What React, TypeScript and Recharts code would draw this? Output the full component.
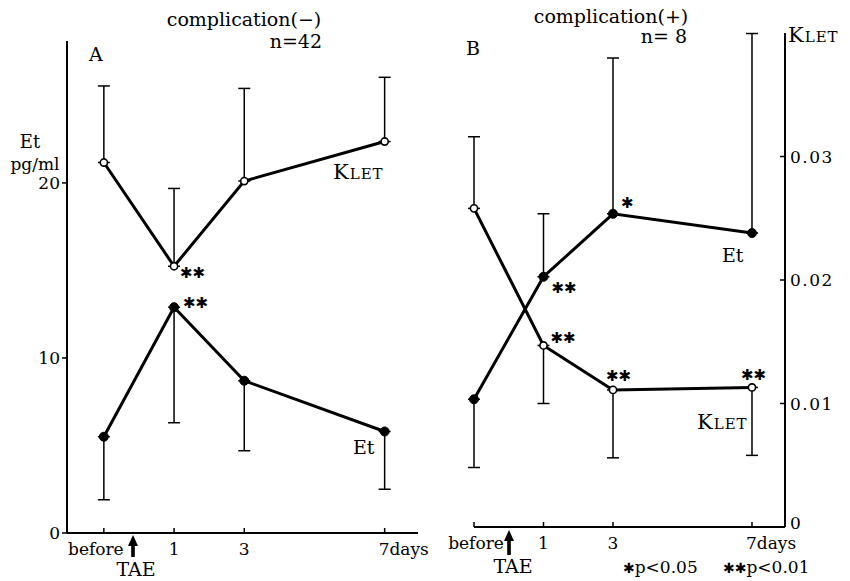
import React from "react";
import { ComposedChart, Line, XAxis, YAxis, ErrorBar } from "recharts";

// days after TAE; "before" sits one "day" left of day 1's spacing
const days = [-1, 1, 3, 7];
const dayLabels = ["before", "1", "3", "7days"];

// A: complication(-), n=42
const etA = [5.5, 12.9, 8.7, 5.8];
const etEndA = [1.9, 6.3, 4.7, 2.5];
const kletA = [0.03, 0.0216, 0.0285, 0.0317];
const kletEndA = [0.0362, 0.0279, 0.036, 0.0369];
const etSigA = ["", "**", "", ""];
const kletSigA = ["", "**", "", ""];

// B: complication(+), n=8
const etB = [7.3, 14.3, 17.9, 16.8];
const etEndB = [3.4, 17.9, 26.8, 28.2];
const kletB = [0.0258, 0.0147, 0.0111, 0.0113];
const kletEndB = [0.0316, 0.01, 0.0056, 0.0058];
const etSigB = ["", "**", "*", ""];
const kletSigB = ["", "**", "**", "**"];

const etTicks = [0, 10, 20];
const kletTicks = [0, 0.01, 0.02, 0.03];

const FONT = "'DejaVu Serif', serif";
const STAR_FONT = "'DejaVu Sans', sans-serif";

const err = (v: number, end: number) =>
  end < v ? [+(v - end).toFixed(4), 0] : [0, +(end - v).toFixed(4)];

const buildRows = (
  et: number[], etEnd: number[], kl: number[], klEnd: number[],
  etSig: string[], klSig: string[]
) =>
  days.map((d, i) => ({
    day: d,
    et: et[i],
    etErr: err(et[i], etEnd[i]),
    klet: kl[i],
    kletErr: err(kl[i], klEnd[i]),
    etSig: etSig[i],
    kletSig: klSig[i],
  }));

const rowsA = buildRows(etA, etEndA, kletA, kletEndA, etSigA, kletSigA);
const rowsB = buildRows(etB, etEndB, kletB, kletEndB, etSigB, kletSigB);

// where the asterisks sit relative to each point
const shiftEtA = [[0, 0], [9, -4], [0, 0], [0, 0]];
const shiftKlA = [[0, 0], [6, 7], [0, 0], [0, 0]];
const shiftEtB = [[0, 0], [8, 11], [8, -11], [0, 0]];
const shiftKlB = [[0, 0], [7, -7], [-7, -14], [-11, -12]];

const makeDot = (filled: boolean, sigKey: string, shift: number[][]) => (props: any) => {
  const { cx, cy, index, payload } = props;
  const sig: string = payload[sigKey];
  const [dx, dy] = shift[index];
  return (
    <g key={`${sigKey}-${index}`}>
      <circle
        cx={cx}
        cy={cy}
        r={filled ? 4.5 : 3.6}
        fill={filled ? "#000" : "#fff"}
        stroke="#000"
        strokeWidth={filled ? 1 : 1.6}
      />
      {sig && (
        <text
          x={cx + dx}
          y={cy + dy}
          dominantBaseline="central"
          fontFamily={STAR_FONT}
          fontSize={15}
          fill="#000"
        >
          {sig.replace(/\*/g, "✱")}
        </text>
      )}
    </g>
  );
};

const DayTick = (props: any) => {
  const { x, y, payload, beforeShift } = props;
  const i = days.indexOf(payload.value);
  const last = i === days.length - 1;
  return (
    <g>
      <line x1={x} y1={y} x2={x} y2={y - 5} stroke="#000" strokeWidth={1.5} />
      <text
        x={last ? x - 6 : x + (i === 0 ? beforeShift : 0)}
        y={y + 16}
        textAnchor={last ? "start" : "middle"}
        dominantBaseline="central"
        fontFamily={FONT}
        fontSize={17}
        fill="#000"
      >
        {dayLabels[i]}
      </text>
    </g>
  );
};

const KletTick = (props: any) => {
  const { x, y, payload } = props;
  const v: number = payload.value;
  return (
    <g>
      <line x1={x - 5} y1={y} x2={x} y2={y} stroke="#000" strokeWidth={1.5} />
      <text
        x={x + 5}
        y={v === 0 ? y - 4 : y}
        dominantBaseline="central"
        fontFamily={FONT}
        fontSize={17}
        letterSpacing={1.5}
        fill="#000"
      >
        {v === 0 ? "0" : v.toFixed(2)}
      </text>
    </g>
  );
};

const axisStroke = { stroke: "#000", strokeWidth: 2 };

const Klet = ({ x, y, big = 21, small = 15 }: { x: number; y: number; big?: number; small?: number }) => (
  <text x={x} y={y} fontFamily={FONT} fill="#000" letterSpacing={1}>
    <tspan fontSize={big}>K</tspan>
    <tspan fontSize={small}>LET</tspan>
  </text>
);

const Arrow = ({ x, tip, bottom }: { x: number; tip: number; bottom: number }) => (
  <g>
    <polygon points={`${x},${tip} ${x - 5},${tip + 11} ${x + 5},${tip + 11}`} fill="#000" />
    <rect x={x - 1.8} y={tip + 10} width={3.6} height={bottom - tip - 10} fill="#000" />
  </g>
);

export default function App() {
  return (
    <div style={{ position: "absolute", left: 0, top: 0, width: 850, height: 581, background: "#fff" }}>
      <div style={{ position: "absolute", left: 0, top: 0 }}>
        <ComposedChart width={430} height={581} data={rowsA} margin={{ top: 41, right: 12, bottom: 18, left: 27 }}>
          <XAxis
            dataKey="day"
            type="number"
            domain={[-2.05, 7.95]}
            ticks={days}
            interval={0}
            height={30}
            tickLine={false}
            tickSize={0}
            tickMargin={0}
            axisLine={axisStroke}
            tick={(p: any) => <DayTick {...p} beforeShift={-8} />}
          />
          <YAxis
            yAxisId="et"
            domain={[0, 28.11]}
            ticks={etTicks}
            interval={0}
            width={40}
            tickSize={5}
            axisLine={axisStroke}
            tickLine={{ stroke: "#000", strokeWidth: 1.5 }}
            tick={{ fill: "#000", fontFamily: FONT, fontSize: 17 }}
          />
          <YAxis yAxisId="kl" hide domain={[0, 0.03984]} />
          <Line
            yAxisId="kl"
            dataKey="klet"
            type="linear"
            stroke="#000"
            strokeWidth={3}
            dot={makeDot(false, "kletSig", shiftKlA)}
            activeDot={false}
            isAnimationActive={false}
          >
            <ErrorBar dataKey="kletErr" direction="y" width={6} stroke="#000" strokeWidth={1.5} isAnimationActive={false} />
          </Line>
          <Line
            yAxisId="et"
            dataKey="et"
            type="linear"
            stroke="#000"
            strokeWidth={3}
            dot={makeDot(true, "etSig", shiftEtA)}
            activeDot={false}
            isAnimationActive={false}
          >
            <ErrorBar dataKey="etErr" direction="y" width={6} stroke="#000" strokeWidth={1.5} isAnimationActive={false} />
          </Line>
        </ComposedChart>
      </div>

      <div style={{ position: "absolute", left: 430, top: 0 }}>
        <ComposedChart width={420} height={581} data={rowsB} margin={{ top: 33, right: 15, bottom: 24, left: 44 }}>
          <XAxis
            dataKey="day"
            type="number"
            domain={[-1, 7.95]}
            ticks={days}
            interval={0}
            height={30}
            tickLine={false}
            tickSize={0}
            tickMargin={0}
            axisLine={axisStroke}
            tick={(p: any) => <DayTick {...p} beforeShift={2} />}
          />
          <YAxis yAxisId="et" hide domain={[0, 28.23]} />
          <YAxis
            yAxisId="kl"
            orientation="right"
            domain={[0, 0.04]}
            ticks={kletTicks}
            interval={0}
            width={50}
            tickLine={false}
            tickSize={0}
            tickMargin={0}
            axisLine={axisStroke}
            tick={(p: any) => <KletTick {...p} />}
          />
          <Line
            yAxisId="kl"
            dataKey="klet"
            type="linear"
            stroke="#000"
            strokeWidth={3}
            dot={makeDot(false, "kletSig", shiftKlB)}
            activeDot={false}
            isAnimationActive={false}
          >
            <ErrorBar dataKey="kletErr" direction="y" width={6} stroke="#000" strokeWidth={1.5} isAnimationActive={false} />
          </Line>
          <Line
            yAxisId="et"
            dataKey="et"
            type="linear"
            stroke="#000"
            strokeWidth={3}
            dot={makeDot(true, "etSig", shiftEtB)}
            activeDot={false}
            isAnimationActive={false}
          >
            <ErrorBar dataKey="etErr" direction="y" width={6} stroke="#000" strokeWidth={1.5} isAnimationActive={false} />
          </Line>
        </ComposedChart>
      </div>

      <svg width={850} height={581} style={{ position: "absolute", left: 0, top: 0, pointerEvents: "none" }}>
        <g fontFamily={FONT} fill="#000">
          <text x={244} y={26} fontSize={19} textAnchor="middle">complication(−)</text>
          <text x={322} y={48} fontSize={19} textAnchor="end">n=42</text>
          <text x={89} y={61} fontSize={19}>A</text>
          <text x={30} y={148} fontSize={18} textAnchor="middle">Et</text>
          <text x={35} y={170} fontSize={17} textAnchor="middle">pg/ml</text>
          <text x={353} y={454} fontSize={19}>Et</text>

          <text x={611} y={23} fontSize={19} textAnchor="middle">complication(+)</text>
          <text x={687} y={43} fontSize={19} textAnchor="end">n= 8</text>
          <text x={466} y={55} fontSize={19}>B</text>
          <text x={722} y={262} fontSize={19}>Et</text>

          <text x={136} y={576} fontSize={19} textAnchor="middle">TAE</text>
          <text x={513} y={573} fontSize={19} textAnchor="middle">TAE</text>

          <text x={623} y={573} fontSize={17}>
            <tspan fontFamily={STAR_FONT} fontSize={14}>✱</tspan>p&lt;0.05
          </text>
          <text x={723} y={573} fontSize={17}>
            <tspan fontFamily={STAR_FONT} fontSize={14}>✱✱</tspan>p&lt;0.01
          </text>
        </g>
        <Klet x={333} y={179} />
        <Klet x={697} y={429} />
        <Klet x={788} y={42} />
        <Arrow x={133} tip={535} bottom={557} />
        <Arrow x={509} tip={530} bottom={555} />
      </svg>
    </div>
  );
}
